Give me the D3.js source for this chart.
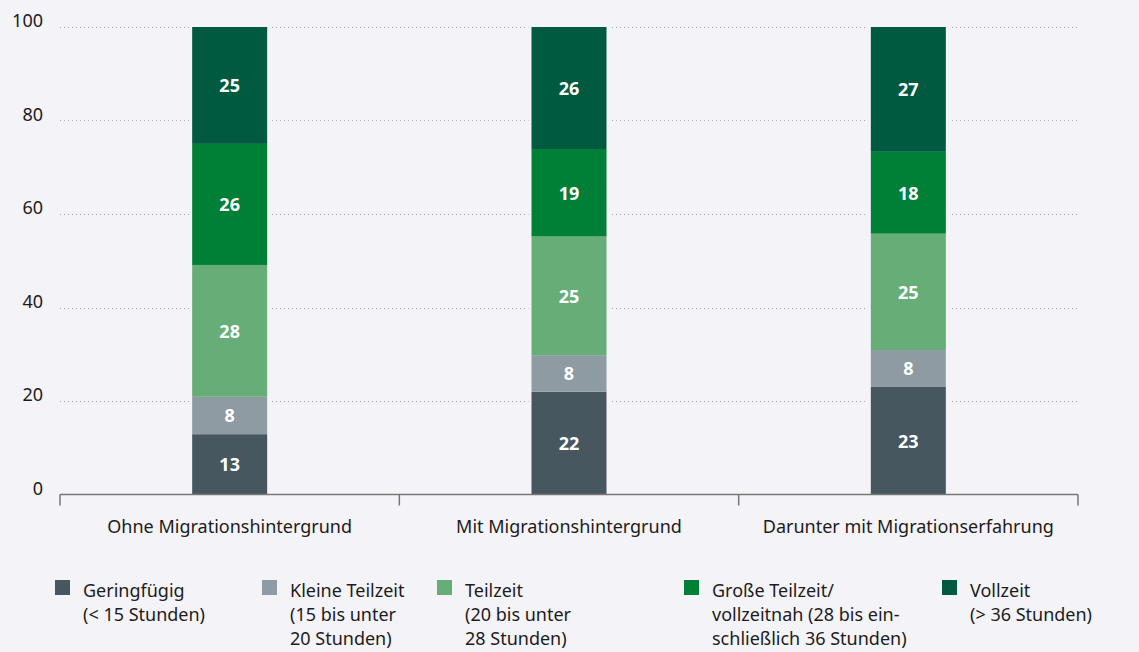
<!DOCTYPE html>
<html>
<head>
<meta charset="utf-8">
<script src="https://cdn.jsdelivr.net/npm/d3@7"></script>
<style>
  html, body { margin: 0; padding: 0; background: #f4f3f7; }
  svg { display: block; font-family: "Noto Sans", sans-serif; }
</style>
</head>
<body>
<div id="chart"></div>
<script>
// data
var categories = ['Ohne Migrationshintergrund', 'Mit Migrationshintergrund', 'Darunter mit Migrationserfahrung'];
var seriesKeys = ['gering', 'klein', 'teil', 'gross', 'voll'];
var geringfuegig = [12.9, 22.0, 23.0];
var kleineTeilzeit = [8.0, 7.8, 7.9];
var teilzeit = [28.2, 25.4, 24.9];
var grosseTeilzeit = [25.9, 18.7, 17.5];
var vollzeit = [25.0, 26.1, 26.7];
var labels = [
  [13, 8, 28, 26, 25],
  [22, 8, 25, 19, 26],
  [23, 8, 25, 18, 27]
];
var legendLabels = [
  ['Geringfügig', '(< 15 Stunden)'],
  ['Kleine Teilzeit', '(15 bis unter', '20 Stunden)'],
  ['Teilzeit', '(20 bis unter', '28 Stunden)'],
  ['Große Teilzeit/', 'vollzeitnah (28 bis ein-', 'schließlich 36 Stunden)'],
  ['Vollzeit', '(> 36 Stunden)']
];
var yTicks = [0, 20, 40, 60, 80, 100];

var colors = ['#475760', '#8f9ba3', '#66ad78', '#007f36', '#005a3f'];
var bg = '#f4f3f7';
var legendX = [55, 262, 437, 684, 942];

var width = 1139, height = 652;
var margin = { left: 60, right: 61, top: 27, bottom: 158 };

var rows = categories.map(function(c, i) {
  return {
    cat: c, idx: i,
    gering: geringfuegig[i], klein: kleineTeilzeit[i], teil: teilzeit[i],
    gross: grosseTeilzeit[i], voll: vollzeit[i]
  };
});
var stacked = d3.stack().keys(seriesKeys)(rows);

var svg = d3.select('#chart').append('svg')
  .attr('width', width)
  .attr('height', height);

var x = d3.scaleBand()
  .domain(categories)
  .range([margin.left, width - margin.right]);

var y = d3.scaleLinear()
  .domain([0, 100])
  .range([height - margin.bottom + 0.5, margin.top]);

// grid
svg.append('g')
  .selectAll('line')
  .data(yTicks.filter(function(d) { return d > 0; }))
  .enter().append('line')
  .attr('x1', margin.left)
  .attr('x2', width - margin.right)
  .attr('y1', function(d) { return Math.round(y(d)) + 0.5; })
  .attr('y2', function(d) { return Math.round(y(d)) + 0.5; })
  .style('stroke', '#aaaaaa')
  .style('stroke-width', 1)
  .style('stroke-dasharray', '1,3');

// y labels
svg.append('g')
  .selectAll('text')
  .data(yTicks)
  .enter().append('text')
  .attr('x', 43)
  .attr('y', function(d) { return y(d); })
  .attr('text-anchor', 'end')
  .style('font-size', '18px')
  .style('fill', '#1c1c1c')
  .text(function(d) { return d; });

var barW = 75;

// small gap between grid and bars
svg.append('g')
  .selectAll('rect')
  .data(categories)
  .enter().append('rect')
  .attr('x', function(d) { return x(d) + x.bandwidth() / 2 - barW / 2 - 3; })
  .attr('width', barW + 6)
  .attr('y', y(100) - 2)
  .attr('height', y(0) - y(100))
  .style('fill', bg);

// bars
var layer = svg.append('g')
  .selectAll('g')
  .data(stacked)
  .enter().append('g')
  .style('fill', function(d, i) { return colors[i]; });

layer.selectAll('rect')
  .data(function(d) { return d; })
  .enter().append('rect')
  .attr('x', function(d) { return x(d.data.cat) + x.bandwidth() / 2 - barW / 2; })
  .attr('width', barW)
  .attr('y', function(d) { return y(d[1]); })
  .attr('height', function(d) { return y(d[0]) - y(d[1]); });

// bar labels
svg.append('g')
  .selectAll('g')
  .data(stacked)
  .enter().append('g')
  .selectAll('text')
  .data(function(s, si) { return s.map(function(d) { return { d: d, si: si }; }); })
  .enter().append('text')
  .attr('x', function(o) { return x(o.d.data.cat) + x.bandwidth() / 2; })
  .attr('y', function(o) { return (y(o.d[0]) + y(o.d[1])) / 2; })
  .attr('dy', '0.38em')
  .attr('text-anchor', 'middle')
  .style('font-size', '18px')
  .style('font-weight', 'bold')
  .style('fill', '#fff')
  .text(function(o) { return labels[o.d.data.idx][o.si]; });

// x axis
var xAxis = svg.append('g')
  .attr('transform', 'translate(0,' + (height - margin.bottom + 0.5) + ')');

xAxis.append('line')
  .attr('x1', margin.left)
  .attr('x2', width - margin.right)
  .style('stroke', '#777')
  .style('stroke-width', 1.5);

var tickPos = categories.map(function(c) { return x(c); }).concat([width - margin.right]);
xAxis.selectAll('line.tick')
  .data(tickPos)
  .enter().append('line')
  .attr('class', 'tick')
  .attr('x1', function(d) { return d; })
  .attr('x2', function(d) { return d; })
  .attr('y1', 0)
  .attr('y2', 11)
  .style('stroke', '#777')
  .style('stroke-width', 1.5);

xAxis.selectAll('text')
  .data(categories)
  .enter().append('text')
  .attr('x', function(d) { return x(d) + x.bandwidth() / 2; })
  .attr('y', 38)
  .attr('text-anchor', 'middle')
  .style('font-size', '18px')
  .style('fill', '#1c1c1c')
  .text(function(d) { return d; });

// legend
var legend = svg.append('g')
  .selectAll('g')
  .data(legendLabels)
  .enter().append('g')
  .attr('transform', function(d, i) { return 'translate(' + legendX[i] + ',580)'; });

legend.append('rect')
  .attr('width', 15)
  .attr('height', 15)
  .style('fill', function(d, i) { return colors[i]; });

legend.append('text')
  .style('font-size', '18px')
  .style('fill', '#1c1c1c')
  .selectAll('tspan')
  .data(function(d) { return d; })
  .enter().append('tspan')
  .attr('x', 28)
  .attr('y', function(d, i) { return 17 + i * 24; })
  .text(function(d) { return d; });
</script>
</body>
</html>
